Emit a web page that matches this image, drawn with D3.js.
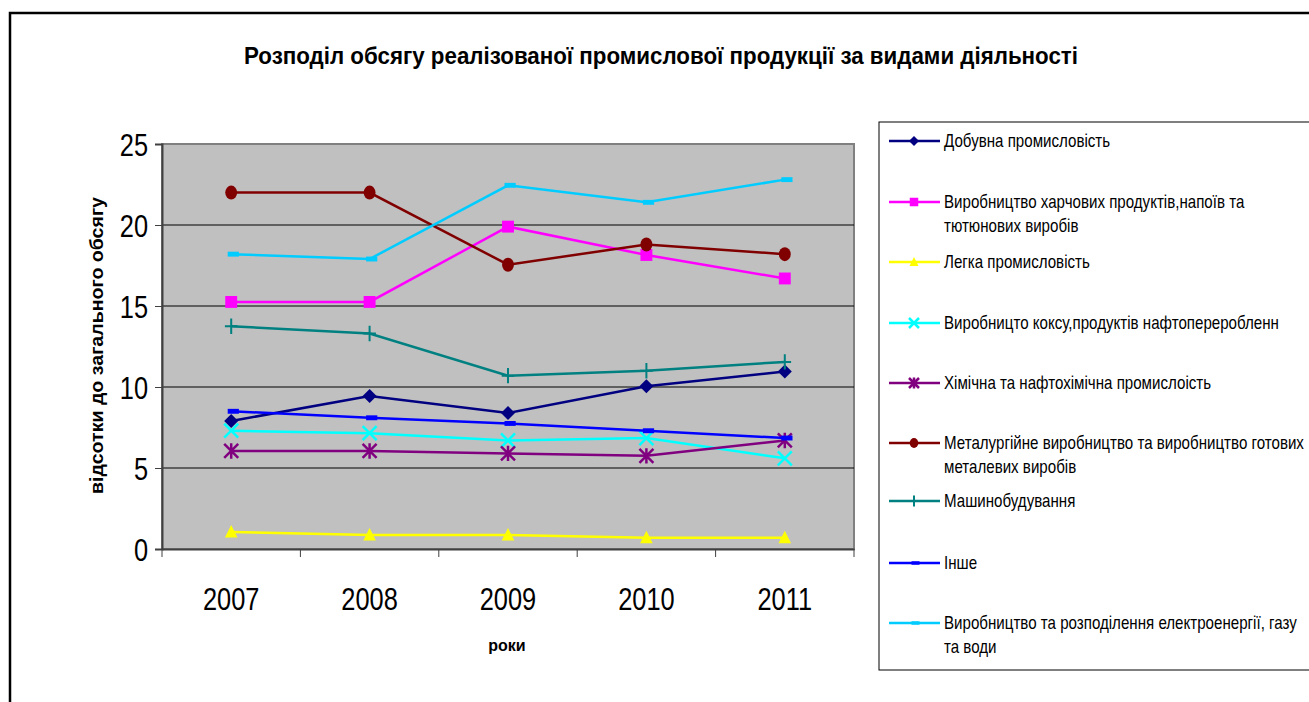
<!DOCTYPE html>
<html>
<head>
<meta charset="utf-8">
<script src="https://cdn.jsdelivr.net/npm/d3@7"></script>
<style>
  body { margin: 0; background: #fff; }
  svg { display: block; font-family: "Liberation Sans", Arial, sans-serif; }
</style>
</head>
<body>
<div class="container"></div>
<script>
const years = ["2007", "2008", "2009", "2010", "2011"];
const yTicks = [0, 5, 10, 15, 20, 25];

const seriesNames = [
  ["Добувна промисловість"],
  ["Виробництво харчових продуктів,напоїв та", "тютюнових виробів"],
  ["Легка промисловість"],
  ["Виробницто коксу,продуктів нафтопереробленн"],
  ["Хімічна та нафтохімічна промислоість"],
  ["Металургійне виробництво та виробництво готових", "металевих виробів"],
  ["Машинобудування"],
  ["Інше"],
  ["Виробництво та розподілення електроенергії, газу", "та води"]
];

const mining    = [7.9, 9.45, 8.4, 10.05, 10.95];
const food      = [15.25, 15.25, 19.9, 18.15, 16.7];
const light     = [1.05, 0.87, 0.87, 0.7, 0.7];
const coke      = [7.3, 7.15, 6.7, 6.85, 5.6];
const chemical  = [6.05, 6.05, 5.9, 5.75, 6.7];
const metal     = [22.0, 22.0, 17.55, 18.8, 18.2];
const machinery = [13.75, 13.3, 10.7, 11.0, 11.55];
const other     = [8.5, 8.1, 7.75, 7.3, 6.85];
const energy    = [18.2, 17.9, 22.45, 21.4, 22.8];

const colors = ["#000080", "#FF00FF", "#FFFF00", "#00FFFF", "#800080", "#800000", "#008080", "#0000FF", "#00CCFF"];
const markers = ["diamond", "square", "triangle", "cross", "star", "circle", "plus", "dash", "dash"];
const seriesData = [mining, food, light, coke, chemical, metal, machinery, other, energy];

const w = 1309, h = 702;
const plot = { left: 162, top: 144, right: 854, bottom: 549 };
const narrow = 0.82; // horizontal squeeze to imitate a narrow face

const svg = d3.select(".container").append("svg")
  .attr("width", w).attr("height", h);

// outer frame
svg.append("rect")
  .attr("x", 10).attr("y", 13).attr("width", 1320).attr("height", 720)
  .attr("fill", "none").attr("stroke", "#000").attr("stroke-width", 2.5);

// title
svg.append("text")
  .attr("x", 244).attr("y", 64)
  .attr("font-size", 24).attr("font-weight", "bold")
  .attr("textLength", 834).attr("lengthAdjust", "spacingAndGlyphs")
  .text("Розподіл обсягу реалізованої промислової продукції за видами діяльності");

const xScale = d3.scaleBand().domain(years).range([plot.left, plot.right]);
const yScale = d3.scaleLinear().domain([0, 25]).range([plot.bottom, plot.top]);

// plot background
svg.append("rect")
  .attr("x", plot.left).attr("y", plot.top)
  .attr("width", plot.right - plot.left).attr("height", plot.bottom - plot.top)
  .attr("fill", "#C0C0C0").attr("stroke", "#808080").attr("stroke-width", 2);

// gridlines
svg.append("g").selectAll("line")
  .data(yTicks.filter(d => d > 0 && d < 25))
  .enter().append("line")
  .attr("x1", plot.left).attr("x2", plot.right)
  .attr("y1", d => yScale(d)).attr("y2", d => yScale(d))
  .attr("stroke", "#000").attr("stroke-width", 1);

// axes
const yAxis = d3.axisLeft(yScale).tickValues(yTicks).tickSize(7).tickPadding(10);
const gy = svg.append("g").attr("transform", "translate(" + plot.left + ",0)").call(yAxis);
gy.select(".domain").attr("stroke", "#404040").attr("stroke-width", 2);
gy.selectAll(".tick line").attr("stroke", "#404040");
gy.selectAll("text").attr("font-size", 31).attr("fill", "#000")
  .attr("font-family", "Liberation Sans, Arial, sans-serif")
  .attr("dy", "0.36em").attr("transform", "scale(" + narrow + ",1)");

const xAxis = d3.axisBottom(xScale).tickSize(0).tickPadding(39);
const gx = svg.append("g").attr("transform", "translate(0," + plot.bottom + ")").call(xAxis);
gx.select(".domain").attr("stroke", "#404040").attr("stroke-width", 2);
gx.selectAll("text").attr("font-size", 31).attr("fill", "#000")
  .attr("font-family", "Liberation Sans, Arial, sans-serif")
  .attr("transform", "scale(" + narrow + ",1)");
// category boundary ticks
const bounds = years.map(d => xScale(d)).concat([plot.right]);
gx.selectAll(".bound").data(bounds).enter().append("line")
  .attr("x1", d => d).attr("x2", d => d).attr("y1", 0).attr("y2", 8)
  .attr("stroke", "#404040");

// axis titles
svg.append("text")
  .attr("transform", "translate(103,494) rotate(-90)")
  .attr("font-size", 18).attr("font-weight", "bold")
  .attr("textLength", 297).attr("lengthAdjust", "spacingAndGlyphs")
  .text("відсотки до загального обсягу");

svg.append("text")
  .attr("x", 507).attr("y", 651)
  .attr("text-anchor", "middle")
  .attr("font-size", 16).attr("font-weight", "bold")
  .text("роки");

function drawMarker(g, type, color, s) {
  if (type === "diamond") {
    g.append("path").attr("d", `M0,${-s}L${s},0L0,${s}L${-s},0Z`).attr("fill", color);
  } else if (type === "square") {
    g.append("rect").attr("x", -s * 0.85).attr("y", -s * 0.85).attr("width", s * 1.7).attr("height", s * 1.7).attr("fill", color);
  } else if (type === "triangle") {
    g.append("path").attr("d", `M0,${-s}L${s * 0.9},${s * 0.8}L${-s * 0.9},${s * 0.8}Z`).attr("fill", color);
  } else if (type === "cross") {
    g.append("path").attr("d", `M${-s},${-s}L${s},${s}M${-s},${s}L${s},${-s}`).attr("stroke", color).attr("stroke-width", 2.5);
  } else if (type === "star") {
    g.append("path").attr("d", `M${-s},${-s}L${s},${s}M${-s},${s}L${s},${-s}M0,${-s * 1.1}L0,${s * 1.1}`).attr("stroke", color).attr("stroke-width", 2.5);
  } else if (type === "circle") {
    g.append("ellipse").attr("rx", s * 0.85).attr("ry", s).attr("fill", color);
  } else if (type === "plus") {
    g.append("path").attr("d", `M0,${-s * 1.1}L0,${s * 1.1}M${-s * 0.9},0L${s * 0.9},0`).attr("stroke", color).attr("stroke-width", 2);
  } else if (type === "dash") {
    g.append("rect").attr("x", -s * 0.5).attr("y", -s * 0.35).attr("width", s * 1.6).attr("height", s * 0.7).attr("fill", color);
  }
}

const line = d3.line()
  .x((d, i) => xScale(years[i]) + xScale.bandwidth() / 2)
  .y(d => yScale(d));

seriesData.forEach((vals, k) => {
  const g = svg.append("g");
  g.append("path").datum(vals)
    .attr("d", line)
    .attr("fill", "none").attr("stroke", colors[k]).attr("stroke-width", 2.5);
  vals.forEach((v, i) => {
    const m = g.append("g")
      .attr("transform", "translate(" + (xScale(years[i]) + xScale.bandwidth() / 2) + "," + yScale(v) + ")");
    drawMarker(m, markers[k], colors[k], 7);
  });
});

// legend
svg.append("rect")
  .attr("x", 879).attr("y", 122).attr("width", 460).attr("height", 548)
  .attr("fill", "#fff").attr("stroke", "#000").attr("stroke-width", 1);

const legendY = [141, 202, 262, 323, 383, 443, 501, 563, 623];
seriesNames.forEach((lines, k) => {
  const g = svg.append("g").attr("transform", "translate(0," + legendY[k] + ")");
  g.append("line").attr("x1", 889).attr("x2", 940).attr("y1", 0).attr("y2", 0)
    .attr("stroke", colors[k]).attr("stroke-width", 2.5);
  const m = g.append("g").attr("transform", "translate(914,0)");
  drawMarker(m, markers[k], colors[k], 5);
  lines.forEach((t, j) => {
    g.append("text")
      .attr("transform", "translate(944," + (j * 24) + ") scale(0.84,1)")
      .attr("dy", "0.36em")
      .attr("font-size", 18)
      .text(t);
  });
});
</script>
</body>
</html>
